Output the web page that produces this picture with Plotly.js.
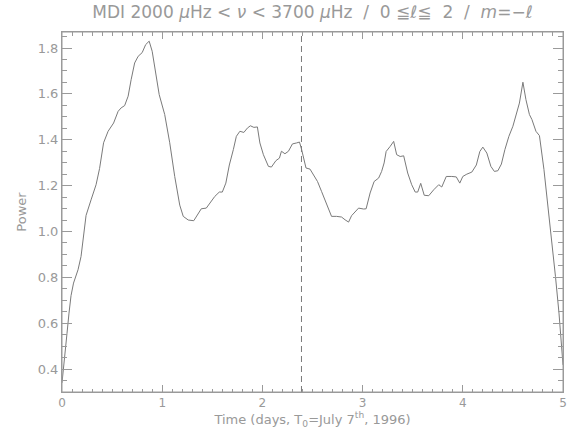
<!DOCTYPE html>
<html>
<head>
<meta charset="utf-8">
<script src="https://cdn.plot.ly/plotly-3.0.1.min.js"></script>
<style>html,body{margin:0;padding:0;background:#fff;}#chart{width:569px;height:432px;}</style>
</head>
<body>
<div id="chart"></div>
<script>
var timeDays = [0.00,0.015,0.035,0.05,0.07,0.09,0.115,0.16,0.19,0.215,0.24,0.29,0.34,0.375,0.415,0.46,0.515,0.56,0.59,0.625,0.66,0.69,0.725,0.76,0.80,0.835,0.87,0.90,0.935,0.97,1.025,1.075,1.125,1.175,1.21,1.26,1.315,1.36,1.39,1.44,1.48,1.525,1.57,1.60,1.635,1.67,1.71,1.74,1.775,1.815,1.85,1.88,1.915,1.95,1.975,2.01,2.06,2.09,2.135,2.17,2.19,2.225,2.26,2.30,2.34,2.37,2.39,2.41,2.435,2.475,2.515,2.55,2.59,2.64,2.69,2.74,2.79,2.825,2.86,2.89,2.96,3.01,3.035,3.075,3.115,3.16,3.19,3.215,3.235,3.275,3.31,3.34,3.375,3.41,3.45,3.49,3.525,3.55,3.58,3.615,3.66,3.71,3.76,3.79,3.835,3.89,3.935,3.97,4.00,4.04,4.09,4.135,4.17,4.20,4.24,4.28,4.315,4.35,4.385,4.42,4.46,4.50,4.53,4.565,4.60,4.63,4.665,4.69,4.73,4.765,4.81,4.875,4.925,4.96,4.98,5.00];
var power = [0.34,0.40,0.47,0.556,0.644,0.72,0.775,0.833,0.891,0.978,1.07,1.138,1.204,1.275,1.387,1.437,1.473,1.524,1.539,1.549,1.59,1.662,1.735,1.764,1.78,1.815,1.83,1.786,1.69,1.597,1.51,1.387,1.24,1.115,1.066,1.05,1.047,1.08,1.099,1.102,1.124,1.153,1.172,1.172,1.211,1.29,1.357,1.415,1.437,1.432,1.451,1.461,1.454,1.456,1.386,1.335,1.284,1.281,1.309,1.32,1.35,1.339,1.35,1.382,1.386,1.39,1.36,1.32,1.277,1.272,1.24,1.218,1.175,1.124,1.066,1.066,1.063,1.051,1.041,1.069,1.102,1.098,1.099,1.168,1.218,1.233,1.262,1.299,1.349,1.371,1.393,1.335,1.327,1.33,1.255,1.204,1.172,1.172,1.21,1.158,1.156,1.182,1.204,1.194,1.24,1.24,1.238,1.211,1.24,1.25,1.259,1.29,1.349,1.368,1.342,1.284,1.262,1.265,1.294,1.357,1.415,1.459,1.502,1.56,1.651,1.575,1.51,1.488,1.437,1.418,1.27,1.022,0.803,0.644,0.541,0.418];
var markerDay = 2.39;
var xRange = [0, 5];
var yRange = [0.3, 1.87];

var textColor = '#999999';
var axisColor = '#9a9a9a';
var lineColor = '#7a7a7a';
var fontFam = 'DejaVu Sans, sans-serif';

var trace = {
  x: timeDays, y: power, type: 'scatter', mode: 'lines',
  line: {color: lineColor, width: 1}, hoverinfo: 'none'
};

var layout = {
  width: 569, height: 432,
  margin: {l: 62, r: 6, t: 32, b: 40, pad: 0},
  paper_bgcolor: '#ffffff', plot_bgcolor: '#ffffff',
  showlegend: false,
  font: {family: fontFam, color: textColor, size: 12},
  title: {
    text: 'MDI 2000 <i>μ</i>Hz &lt; <i>ν</i> &lt; 3700 <i>μ</i>Hz &nbsp;/&nbsp; 0 ≦<i>ℓ</i>≦ &nbsp;2 &nbsp;/&nbsp; <i>m</i>=−<i>ℓ</i>',
    font: {family: fontFam, color: textColor, size: 17},
    xref: 'paper', x: 0.5, xanchor: 'center', y: 0.972, yanchor: 'middle'
  },
  xaxis: {
    range: xRange, dtick: 1, tick0: 0,
    ticks: 'inside', ticklen: 7, tickcolor: axisColor, tickwidth: 1,
    minor: {dtick: 0.1, ticks: 'inside', ticklen: 3.5, tickcolor: axisColor, tickwidth: 1, showgrid: false},
    showline: true, linecolor: axisColor, linewidth: 1, mirror: 'allticks',
    showgrid: false, zeroline: false,
    tickfont: {family: fontFam, color: textColor, size: 12},
    title: {text: 'Time (days, T<sub>0</sub>=July 7<sup>th</sup>, 1996)', font: {family: fontFam, color: textColor, size: 13}, standoff: 2}
  },
  yaxis: {
    range: yRange, dtick: 0.2, tick0: 0.4, tickformat: '.1f',
    ticks: 'inside', ticklen: 10, tickcolor: axisColor, tickwidth: 1,
    minor: {dtick: 0.05, ticks: 'inside', ticklen: 5, tickcolor: axisColor, tickwidth: 1, showgrid: false},
    showline: true, linecolor: axisColor, linewidth: 1, mirror: 'allticks',
    showgrid: false, zeroline: false,
    tickfont: {family: fontFam, color: textColor, size: 13},
    title: {text: 'Power', font: {family: fontFam, color: textColor, size: 13}, standoff: 8}
  },
  shapes: [{
    type: 'line', xref: 'x', yref: 'paper', x0: markerDay, x1: markerDay, y0: 0, y1: 1,
    line: {color: lineColor, width: 1, dash: '6px,4px'}
  }, {
    type: 'rect', xref: 'paper', yref: 'paper', x0: 0, x1: 1, y0: 0, y1: 1,
    line: {color: axisColor, width: 1}, fillcolor: 'rgba(0,0,0,0)', layer: 'above'
  }]
};

Plotly.newPlot('chart', [trace], layout, {staticPlot: true, displayModeBar: false});
</script>
</body>
</html>
